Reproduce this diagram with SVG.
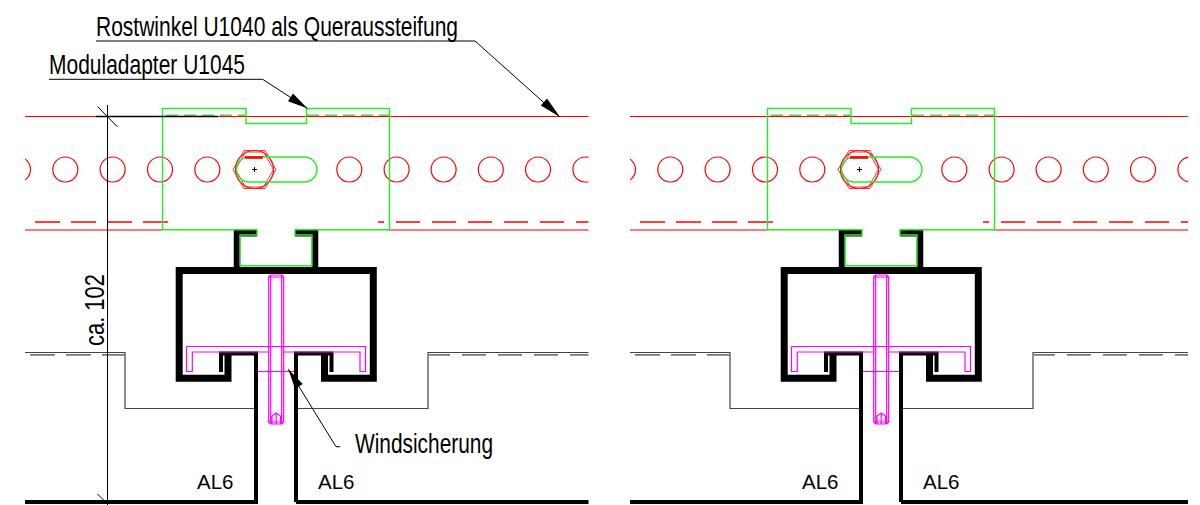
<svg xmlns="http://www.w3.org/2000/svg" xmlns:xlink="http://www.w3.org/1999/xlink" width="1200" height="505" viewBox="0 0 1200 505">
<style>
.r{fill:none;stroke:#f00;stroke-width:1.2}
.rh{fill:none;stroke:#f22;stroke-width:.9}
.rp{fill:none;stroke:#ff7a80;stroke-width:1.8}
.rd{fill:none;stroke:#f00;stroke-width:1.3}
.g{fill:none;stroke:#22ee22;stroke-width:1.4}
.gd{fill:none;stroke:#44e044;stroke-width:1.5;stroke-dasharray:12 6}
.m{fill:none;stroke:#f0f;stroke-width:1.2}
.k{fill:none;stroke:#000;stroke-linejoin:miter}
.ln{fill:none;stroke:#444;stroke-width:1.2}
.gl{fill:none;stroke:#777;stroke-width:1.8}
.lead{fill:none;stroke:#000;stroke-width:1}
.ah{fill:#000;stroke:none}
text{font-family:"Liberation Sans",Arial,sans-serif;fill:#000}
.t{font-size:27.5px}
.a{font-size:20.5px}
</style>
<defs>
<clipPath id="clipL"><rect x="25" y="0" width="563.5" height="505"/></clipPath>
<clipPath id="clipR"><rect x="630" y="0" width="558" height="505"/></clipPath>
<g id="detail">
<path class="r" d="M25,116.5H589"/>
<path class="rp" d="M25,230H162M389,230H589"/>
<path class="rd" d="M35,222H60M71,222H96M107,222H132M143,222H168M378,222H384M396,222H420M432,222H456M468,222H492M504,222H528M540,222H564M576,222H589"/>
<g class="r">
<circle cx="18" cy="169.5" r="12.5"/><circle cx="65.3" cy="169.5" r="12.5"/><circle cx="112.6" cy="169.5" r="12.5"/><circle cx="160" cy="169.5" r="12.5"/><circle cx="207.3" cy="169.5" r="12.5"/><circle cx="349.3" cy="169.5" r="12.5"/><circle cx="396.6" cy="169.5" r="12.5"/><circle cx="443.6" cy="169.5" r="12.5"/><circle cx="490.8" cy="169.5" r="12.5"/><circle cx="538" cy="169.5" r="12.5"/><circle cx="585.4" cy="169.5" r="12.5"/>
<circle cx="254.5" cy="169.5" r="19"/>
</g>
<path class="rh" d="M233,169.500L244,150.500H265L276,169.500L265,188.500H244Z"/>
<path class="rh" d="M235.500,169.500L245.500,152H263.500L273.500,169.500L263.500,187H245.500Z"/>
<path class="k" stroke-width="1" d="M252,169.500H257M254.500,167V172"/>
<path class="k" stroke-width="6.500" d="M237,268V233.300H257M315,268V233.300H295"/>
<path class="k" stroke-width="7" d="M228,355V378.300H179.200V270.600H373.300V378.300H324.500V352"/>
<path class="k" stroke-width="4" d="M219,353.500H256V502H25M296,502V353.500H333.500M296,502H589M221,353V372M331.500,353V372"/>
<path class="ln" d="M25,352.500H125V408.500H255M298,408.500H428V352.500H589"/>
<path class="gl" d="M30,354.800H55M66,354.800H91M102,354.800H125M429,354.800H450M462,354.800H486M498,354.800H522M534,354.800H558M570,354.800H589"/>
<path class="gd" d="M166,115.200H246M307,115.200H389"/>
<path class="g" d="M162.500,108.500H246V123.500H306.500V108.500H389.500V229.700H295V235H312V265.700H240V235H257V229.700H162.500Z"/>
<path class="g" d="M249,157H304.500A12.500,12.500 0 0 1 304.500,182H249A12.500,12.500 0 0 1 249,157Z"/>
<path d="M245,157.500H263" fill="none" stroke="#f00" stroke-width="2.600"/>
<path class="m" d="M186.500,346.500H365.500V371.500H360V352H283.700M268.700,352H192.300V371.500H186.500V346.500M258,371.500H294"/>
<path class="m" stroke-width="1.300" d="M268.700,277L270.700,275H281.700L283.700,277V422L281.700,424H270.700L268.700,422Z"/>
<path class="m" d="M270.700,275V424M281.700,275V424M268.700,277H283.700M268.700,422H283.700M272,424V416L276.200,413L280.500,416V424M276.200,413V424"/>
</g>
</defs>

<g id="view-left" clip-path="url(#clipL)">
<use href="#detail" xlink:href="#detail"/>
</g>
<g id="view-right" clip-path="url(#clipR)">
<use href="#detail" xlink:href="#detail" transform="translate(605 0)"/>
</g>

<g id="connectors">
<path class="k" stroke-width="1.300" d="M96,116.500H218"/>
<path class="k" stroke-width="1" d="M107.500,105V505M97.700,106.700L117.300,126.700M97.500,494L107.500,504"/>
<path class="lead" d="M96,41H475L560,117"/>
<polygon class="ah" points="560,117 540.800,105.500 547,98.500"/>
<path class="lead" d="M49,79.300H262.700L307.300,108.300"/>
<polygon class="ah" points="307.300,108.300 288,101.200 293,93.500"/>
<path class="lead" d="M340,446.700H336L288.300,369.300"/>
<polygon class="ah" points="288.300,369.300 302.800,383.900 295,388.700"/>
</g>

<g id="label-rostwinkel"><text class="t" x="96" y="36" textLength="362" lengthAdjust="spacingAndGlyphs">Rostwinkel U1040 als Queraussteifung</text></g>
<g id="label-moduladapter"><text class="t" x="49" y="74" textLength="196" lengthAdjust="spacingAndGlyphs">Moduladapter U1045</text></g>
<g id="label-windsicherung"><text class="t" x="355" y="452.500" textLength="138" lengthAdjust="spacingAndGlyphs">Windsicherung</text></g>
<g id="label-dim"><text class="t" transform="translate(104 346) rotate(-90)" x="0" y="0" textLength="72" lengthAdjust="spacingAndGlyphs">ca. 102</text></g>
<g id="label-al6-1"><text class="a" x="197" y="488.500">AL6</text></g>
<g id="label-al6-2"><text class="a" x="318" y="488.500">AL6</text></g>
<g id="label-al6-3"><text class="a" x="802" y="488.500">AL6</text></g>
<g id="label-al6-4"><text class="a" x="923" y="488.500">AL6</text></g>
</svg>
